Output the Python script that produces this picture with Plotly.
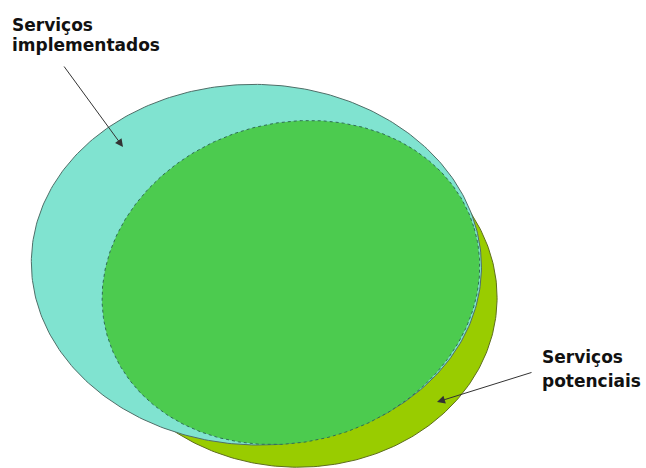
import numpy as np
import plotly.graph_objects as go

# Venn-style sets (picture coordinates: x to the right, y downward)
set_names = ["Serviços potenciais", "Serviços implementados", "Interseção"]
center_x = [296.4, 256.4, 290.9]
center_y = [296.5, 264.7, 282.5]
semi_a = [200.7, 225.1, 191.2]
semi_b = [170.7, 180.3, 159.2]
angle_deg = [1.2, 1.6, -16.5]
fill_colors = ["#99CC00", "#80E3D0", "#4CCB4F"]
line_colors = ["#5E6E1E", "#4F6E68", "#2F6E55"]
line_dashes = ["solid", "solid", "dot"]

label_lines_1 = ["Serviços", "implementados"]
label_lines_2 = ["Serviços", "potenciais"]

fig = go.Figure()
t = np.linspace(0, 2 * np.pi, 361)
for i in range(len(set_names)):
    r = np.radians(angle_deg[i])
    ex = center_x[i] + semi_a[i] * np.cos(t) * np.cos(r) - semi_b[i] * np.sin(t) * np.sin(r)
    ey = center_y[i] + semi_a[i] * np.cos(t) * np.sin(r) + semi_b[i] * np.sin(t) * np.cos(r)
    fig.add_trace(go.Scatter(
        x=ex, y=ey, mode="lines", fill="toself", fillcolor=fill_colors[i],
        line=dict(color=line_colors[i], width=1, dash=line_dashes[i]),
        name=set_names[i], hoverinfo="skip",
    ))

font = dict(family="DejaVu Sans", size=17, color="#111111")
annotations = [
    dict(x=10, y=37, text="<b>%s</b>" % label_lines_1[0]),
    dict(x=10, y=57, text="<b>%s</b>" % label_lines_1[1]),
    dict(x=540, y=369, text="<b>%s</b>" % label_lines_2[0]),
    dict(x=540, y=393, text="<b>%s</b>" % label_lines_2[1]),
]
for a in annotations:
    a.update(xref="x", yref="y", showarrow=False, xanchor="left", yanchor="bottom", font=font)

annotations.append(dict(x=123, y=147, ax=63, ay=65, xref="x", yref="y", axref="x", ayref="y",
                        text="", showarrow=True, arrowhead=2, arrowsize=1.6, arrowwidth=1,
                        arrowcolor="#333333"))
annotations.append(dict(x=437, y=402, ax=533, ay=372, xref="x", yref="y", axref="x", ayref="y",
                        text="", showarrow=True, arrowhead=2, arrowsize=1.6, arrowwidth=1,
                        arrowcolor="#333333"))

fig.update_layout(
    width=646, height=468,
    margin=dict(l=0, r=0, t=0, b=0),
    paper_bgcolor="white", plot_bgcolor="white",
    annotations=annotations,
    xaxis=dict(range=[0, 646], visible=False, fixedrange=True),
    yaxis=dict(range=[468, 0], visible=False, fixedrange=True),
    showlegend=False,
)
fig.write_html("out.html", config={"displayModeBar": False},
               post_script="document.body.style.margin='0';")
